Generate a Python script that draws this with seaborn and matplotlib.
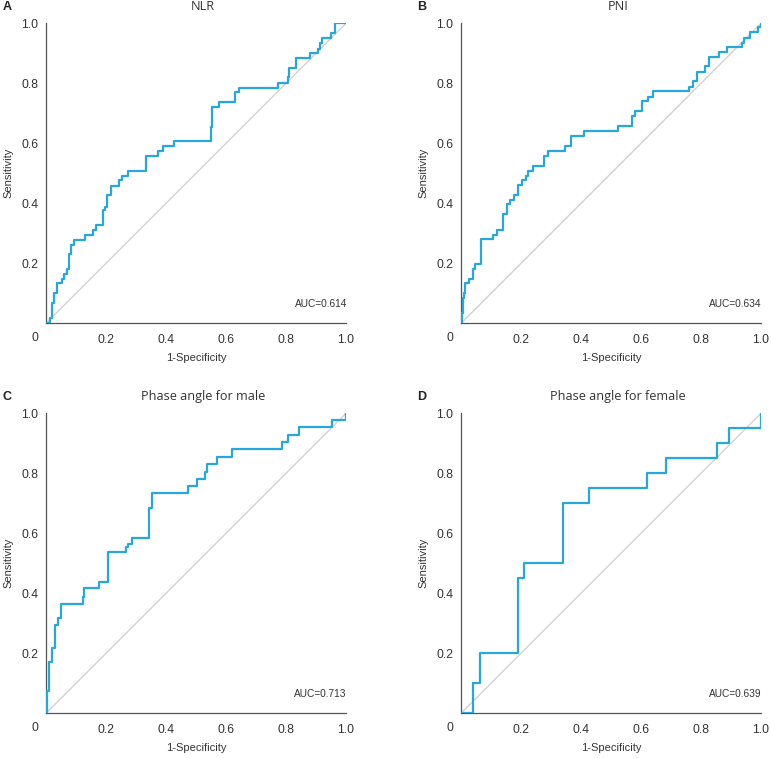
import matplotlib
matplotlib.use("Agg")
import pandas as pd
import seaborn as sns
import matplotlib.pyplot as plt

# ROC corner points (1-specificity where the step happens, sensitivity after it)
nlr_fpr = [0, 0.013, 0.021, 0.028, 0.036, 0.054, 0.061, 0.069, 0.077, 0.083, 0.094, 0.13, 0.156,
           0.166, 0.19, 0.197, 0.202, 0.217, 0.244, 0.252, 0.272, 0.332, 0.373, 0.391, 0.428, 0.55,
           0.554, 0.578, 0.63, 0.644, 0.772, 0.806, 0.811, 0.833, 0.88, 0.906, 0.913, 0.921, 0.949,
           0.962, 1.0]
nlr_tpr = [0, 0.017, 0.067, 0.1, 0.133, 0.147, 0.163, 0.18, 0.23, 0.261, 0.278, 0.294, 0.311,
           0.328, 0.378, 0.389, 0.428, 0.458, 0.478, 0.491, 0.508, 0.558, 0.574, 0.591, 0.607, 0.655,
           0.722, 0.738, 0.77, 0.785, 0.802, 0.82, 0.852, 0.883, 0.902, 0.915, 0.934, 0.951, 0.967,
           1.0, 1.0]

pni_fpr = [0, 0.002, 0.006, 0.01, 0.013, 0.028, 0.039, 0.047, 0.067, 0.108, 0.121, 0.141, 0.154,
           0.163, 0.177, 0.191, 0.202, 0.217, 0.224, 0.241, 0.277, 0.289, 0.347, 0.367, 0.41, 0.522,
           0.569, 0.58, 0.602, 0.624, 0.641, 0.76, 0.774, 0.786, 0.813, 0.827, 0.86, 0.886, 0.938,
           0.942, 0.963, 0.991, 1.0]
pni_tpr = [0, 0.033, 0.083, 0.1, 0.133, 0.147, 0.18, 0.197, 0.28, 0.294, 0.311, 0.363, 0.397,
           0.411, 0.428, 0.461, 0.476, 0.491, 0.509, 0.525, 0.559, 0.574, 0.592, 0.624, 0.641, 0.658,
           0.691, 0.708, 0.741, 0.755, 0.774, 0.789, 0.808, 0.839, 0.858, 0.887, 0.903, 0.92, 0.935,
           0.952, 0.97, 0.989, 1.0]

male_fpr = [0, 0.003, 0.011, 0.019, 0.03, 0.041, 0.05, 0.122, 0.128, 0.178, 0.206, 0.267, 0.274,
            0.286, 0.344, 0.354, 0.474, 0.502, 0.53, 0.538, 0.569, 0.621, 0.788, 0.808, 0.844,
            0.954, 1.0]
male_tpr = [0, 0.073, 0.172, 0.219, 0.294, 0.317, 0.365, 0.389, 0.417, 0.439, 0.538, 0.553, 0.563,
            0.585, 0.683, 0.733, 0.758, 0.781, 0.805, 0.83, 0.855, 0.88, 0.905, 0.927, 0.953,
            0.977, 1.0]

female_fpr = [0, 0.04, 0.063, 0.191, 0.211, 0.341, 0.428, 0.619, 0.682, 0.852, 0.894, 1.0]
female_tpr = [0, 0.1, 0.2, 0.45, 0.5, 0.7, 0.75, 0.8, 0.85, 0.9, 0.95, 1.0]

titles = ["NLR", "PNI", "Phase angle for male", "Phase angle for female"]
letters = ["A", "B", "C", "D"]
aucs = ["0.614", "0.634", "0.713", "0.639"]
ticks = [0, 0.2, 0.4, 0.6, 0.8, 1.0]
tick_labels = ["", "0.2", "0.4", "0.6", "0.8", "1.0"]

curves = [(nlr_fpr, nlr_tpr), (pni_fpr, pni_tpr), (male_fpr, male_tpr), (female_fpr, female_tpr)]

sns.set_style("white")
plt.rcParams['font.family'] = ['Liberation Sans', 'DejaVu Sans']

W, H = 771, 758
fig = plt.figure(figsize=(W / 100, H / 100), dpi=100)

# axes boxes in pixels: left, top
boxes = [(46, 23.3), (461, 23.3), (46, 413.3), (461, 413.3)]
size = 300

for i, (left, top) in enumerate(boxes):
    ax = fig.add_axes([left / W, 1 - (top + size) / H, size / W, size / H])
    fpr, tpr = curves[i]
    df = pd.DataFrame({'fpr': fpr, 'tpr': tpr})

    ax.plot([0, 1], [0, 1], color='#d2d2d2', lw=1.0, zorder=1)
    sns.lineplot(data=df, x='fpr', y='tpr', ax=ax, estimator=None, sort=False,
                 drawstyle='steps-post', color='#27a8dc', lw=1.6, zorder=3)

    ax.set_xlim(0, 1)
    ax.set_ylim(0, 1)
    ax.set_xticks(ticks)
    ax.set_yticks(ticks)
    ax.set_xticklabels(tick_labels)
    ax.set_yticklabels(tick_labels)
    ax.tick_params(axis='both', direction='out', length=3.5, width=0.8, color='#555555',
                   labelsize=8.7, labelcolor='#333333', pad=2)
    ax.tick_params(axis='x', pad=4)
    sns.despine(ax=ax)
    for s in ['left', 'bottom']:
        ax.spines[s].set_color('#555555')
        ax.spines[s].set_linewidth(0.9)

    ax.text(-0.037, -0.049, "0", transform=ax.transAxes, ha='center', va='center',
            fontsize=8.7, color='#333333')

    ax.set_xlabel("1-Specificity", fontsize=8, color='#333333')
    ax.set_ylabel("Sensitivity", fontsize=8, color='#333333')
    ax.xaxis.set_label_coords(0.5, -0.117)
    ax.xaxis.label.set_va('center')
    ax.yaxis.set_label_coords(-0.126, 0.5)
    ax.yaxis.label.set_va('center')

    ax.text(0.523, 1 + 16.6 / size, titles[i], transform=ax.transAxes, ha='center', va='center',
            fontsize=9.1, color='#333333', family=['Open Sans', 'DejaVu Sans'])
    ax.text(1.003, 0.064, "AUC=" + aucs[i], transform=ax.transAxes, ha='right', va='center',
            fontsize=7.3, color='#333333')

    fig.text((left - 39.3) / W, 1 - (top - 16.6) / H, letters[i], ha='center', va='center',
             fontsize=9, fontweight='bold', color='#222222')

fig.savefig("out.png", dpi=100)
